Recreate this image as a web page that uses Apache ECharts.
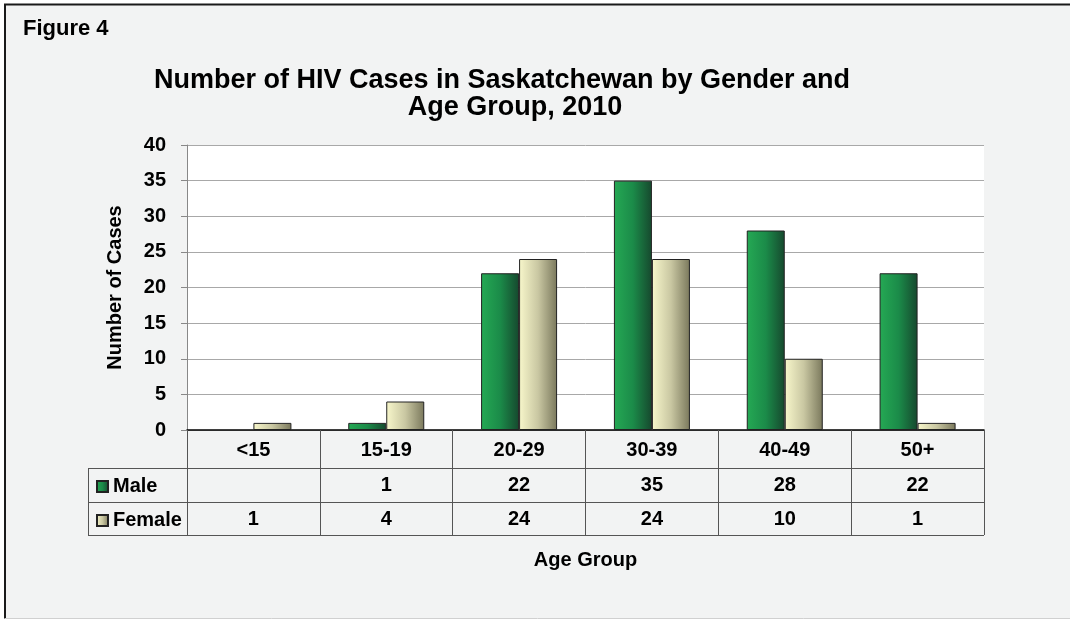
<!DOCTYPE html>
<html><head><meta charset="utf-8">
<script src="https://cdn.jsdelivr.net/npm/echarts@6/dist/echarts.min.js"></script>
<style>html,body{margin:0;padding:0;background:#fff}#c{width:1070px;height:620px}</style>
</head><body><div id="c"></div>
<script>
// ---- data ----
const categories = ['<15', '15-19', '20-29', '30-39', '40-49', '50+'];
const maleValues = [null, 1, 22, 35, 28, 22];
const femaleValues = [1, 4, 24, 24, 10, 1];
const seriesNames = ['Male', 'Female'];
const yMin = 0, yMax = 40, yInterval = 5;

// ---- layout / style ----
const FONT = "'Liberation Sans', Arial, sans-serif";
const GRID = { left: 187, top: 145, right: 86, bottom: 190 };
const W = 1070, H = 620;
const plotBottom = H - GRID.bottom;         // 430
const plotRight = W - GRID.right;           // 984
const rowEdges = [plotBottom + 38, plotBottom + 71.5, plotBottom + 105];
const tableLeft = 88;
const lineColor = '#555';

const maleGrad = new echarts.graphic.LinearGradient(0, 0, 1, 0, [
  { offset: 0, color: '#25a954' }, { offset: 0.5, color: '#1b8b49' }, { offset: 1, color: '#16482e' }
]);
const femaleGrad = new echarts.graphic.LinearGradient(0, 0, 1, 0, [
  { offset: 0, color: '#f8f7cb' }, { offset: 0.5, color: '#c9c7a2' }, { offset: 1, color: '#7a785c' }
]);

const txt = (o) => Object.assign({ fontFamily: FONT, fontWeight: 'bold', fill: '#000' }, o);

const chart = echarts.init(document.getElementById('c'), null, { renderer: 'canvas' });
chart.setOption({
  backgroundColor: '#fff',
  animation: false,
  grid: Object.assign({ show: true, backgroundColor: '#fff', borderWidth: 0 }, GRID),
  legend: {
    data: seriesNames, orient: 'vertical', left: 91, top: 471.5,
    itemWidth: 11, itemHeight: 11, itemGap: 14, selectedMode: false, icon: 'rect',
    textStyle: { fontSize: 20, fontWeight: 'bold', color: '#000', lineHeight: 20, fontFamily: FONT }
  },
  xAxis: [
    {
      type: 'category', data: categories,
      axisLine: { lineStyle: { color: '#000', width: 1.5 } },
      axisTick: { show: true, length: 105, interval: 0, lineStyle: { color: lineColor } },
      axisLabel: { interval: 0, margin: 20, verticalAlign: 'middle', fontSize: 20, fontWeight: 'bold', color: '#000', fontFamily: FONT },
      splitLine: { show: false }
    },
    {
      type: 'category', data: categories, position: 'bottom',
      axisLine: { show: false, onZero: false }, axisTick: { show: false }, splitLine: { show: false },
      axisLabel: { interval: 0, margin: 55.5, verticalAlign: 'middle', fontSize: 20, fontWeight: 'bold', color: '#000', fontFamily: FONT,
        formatter: (v, i) => maleValues[i] == null ? '' : String(maleValues[i]) }
    },
    {
      type: 'category', data: categories, position: 'bottom',
      axisLine: { show: false, onZero: false }, axisTick: { show: false }, splitLine: { show: false },
      axisLabel: { interval: 0, margin: 89, verticalAlign: 'middle', fontSize: 20, fontWeight: 'bold', color: '#000', fontFamily: FONT,
        formatter: (v, i) => femaleValues[i] == null ? '' : String(femaleValues[i]) }
    }
  ],
  yAxis: {
    type: 'value', min: yMin, max: yMax, interval: yInterval,
    name: 'Number of Cases', nameLocation: 'middle', nameGap: 62,
    nameTextStyle: { fontSize: 20, fontWeight: 'bold', color: '#000', fontFamily: FONT },
    axisLine: { show: true, lineStyle: { color: '#888' } },
    axisTick: { show: true, length: 6, lineStyle: { color: '#888' } },
    axisLabel: { margin: 21, fontSize: 20, fontWeight: 'bold', color: '#000', fontFamily: FONT },
    splitLine: { lineStyle: { color: '#a8a8a8' } }
  },
  series: [
    { name: seriesNames[0], type: 'bar', xAxisIndex: 0, data: maleValues, barWidth: 38, barGap: '0%',
      itemStyle: { color: maleGrad, borderColor: '#222', borderWidth: 1 } },
    { name: seriesNames[1], type: 'bar', xAxisIndex: 0, data: femaleValues, barWidth: 38, barGap: '0%',
      itemStyle: { color: femaleGrad, borderColor: '#222', borderWidth: 1 } }
  ],
  graphic: [
    { type: 'rect', z: -100, shape: { x: 5, y: 5, width: W, height: H - 7 }, style: { fill: '#f2f3f3' } },
    { type: 'line', z: 10, shape: { x1: 4, y1: 4.5, x2: W, y2: 4.5 }, style: { stroke: '#1a1a1a', lineWidth: 2 } },
    { type: 'line', z: 10, shape: { x1: 5, y1: 4, x2: 5, y2: H - 1.5 }, style: { stroke: '#1a1a1a', lineWidth: 2 } },
    { type: 'line', z: 10, shape: { x1: 5, y1: H - 1.5, x2: W, y2: H - 1.5 }, style: { stroke: '#d0d0d0', lineWidth: 1 } },
    // table horizontal rules and left edge
    ...rowEdges.map(y => ({ type: 'line', z: 10, shape: { x1: tableLeft, y1: Math.round(y) + 0.5, x2: plotRight, y2: Math.round(y) + 0.5 }, style: { stroke: lineColor, lineWidth: 1 } })),
    { type: 'line', z: 10, shape: { x1: tableLeft + 0.5, y1: rowEdges[0], x2: tableLeft + 0.5, y2: rowEdges[2] + 1 }, style: { stroke: lineColor, lineWidth: 1 } },
    // texts
    { type: 'text', x: 23, y: 18, style: txt({ text: 'Figure 4', fontSize: 22 }) },
    { type: 'text', x: 502, y: 67, style: txt({ text: 'Number of HIV Cases in Saskatchewan by Gender and', fontSize: 27, textAlign: 'center' }) },
    { type: 'text', x: 515, y: 94, style: txt({ text: 'Age Group, 2010', fontSize: 27, textAlign: 'center' }) },
    { type: 'text', x: (GRID.left + plotRight) / 2, y: 550, style: txt({ text: 'Age Group', fontSize: 20, textAlign: 'center' }) }
  ]
});
</script>
</body></html>
